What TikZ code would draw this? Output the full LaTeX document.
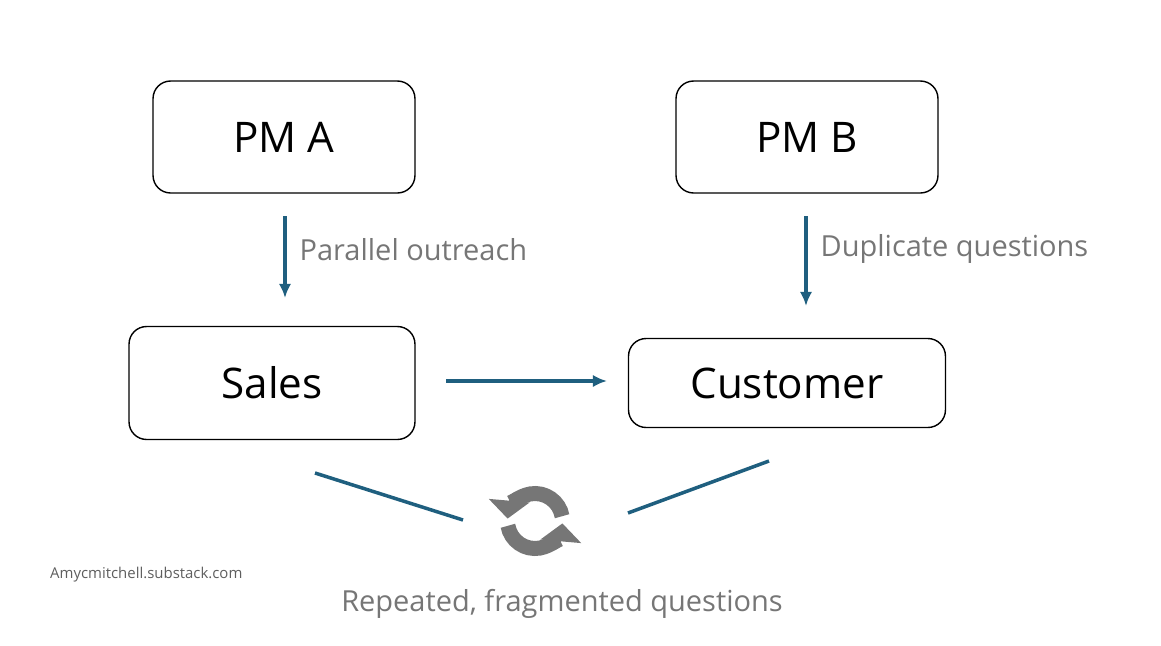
\documentclass[tikz,border=0pt]{standalone}
\usepackage{fontspec}
\setmainfont{Open Sans}
\usetikzlibrary{positioning}
\usetikzlibrary{arrows.meta}
\definecolor{flowblue}{HTML}{1F5F7F}
\definecolor{labelgray}{HTML}{767676}
\tikzset{
    box/.style = {draw, rounded corners=10pt, line width=0.8pt, font=\fontsize{24}{28}\selectfont},
    flow/.style = {draw=flowblue, line width=2pt, -{Latex[length=8pt,width=7pt]}},
    link/.style = {draw=flowblue, line width=2pt},
    note/.style = {text=labelgray, font=\fontsize{16.5}{20}\selectfont},
    cycle/.style = {draw=labelgray, line width=0.3cm, -{Triangle[length=0.36cm,width=0.8cm]}}
}
\begin{document}
\begin{tikzpicture}[x=0.02cm,y=-0.02cm]
    \useasboundingbox (0,0) rectangle (1161,646);
    \node(pma)[box, minimum width=5.24cm, minimum height=2.24cm] at (284,137) {PM A};
    \node(pmb)[box, minimum width=5.24cm, minimum height=2.24cm] at (807,137) {PM B};
    \node(sales)[box, minimum width=5.72cm, minimum height=2.26cm] at (272,383) {Sales};
    \node(cust)[box, minimum width=6.34cm, minimum height=1.78cm] at (787,383) {Customer};
    % arrows between boxes
    \coordinate (a1) at (285,216); \coordinate (a2) at (285,298);
    \coordinate (b1) at (806,216); \coordinate (b2) at (806,306);
    \coordinate (c1) at (446,381); \coordinate (c2) at (607,381);
    \path[flow] (a1) -- node[note, right=4pt, anchor=west, yshift=0.14cm]{Parallel outreach} (a2);
    \path[flow] (b1) -- node[note, right=4pt, anchor=west, yshift=0.24cm]{Duplicate questions} (b2);
    \path[flow] (c1) -- (c2);
    % feedback lines
    \coordinate (l1) at (315,473); \coordinate (l2) at (463,520);
    \coordinate (r1) at (628,513); \coordinate (r2) at (769,461);
    \path[link] (l1) -- (l2);
    \path[link] (r1) -- (r2);
    % cycle icon
    \coordinate (ic) at (535,521);
    \draw[cycle] ([shift={(10:0.55cm)}]ic) arc[start angle=10, end angle=175, radius=0.55cm];
    \draw[cycle] ([shift={(190:0.55cm)}]ic) arc[start angle=190, end angle=355, radius=0.55cm];
    \node(rep)[note] at (562,604) {Repeated, fragmented questions};
    \node(src)[anchor=west, text=labelgray!80!black, font=\fontsize{8.5}{10}\selectfont] at (44,575) {Amycmitchell.substack.com};
\end{tikzpicture}
\end{document}
